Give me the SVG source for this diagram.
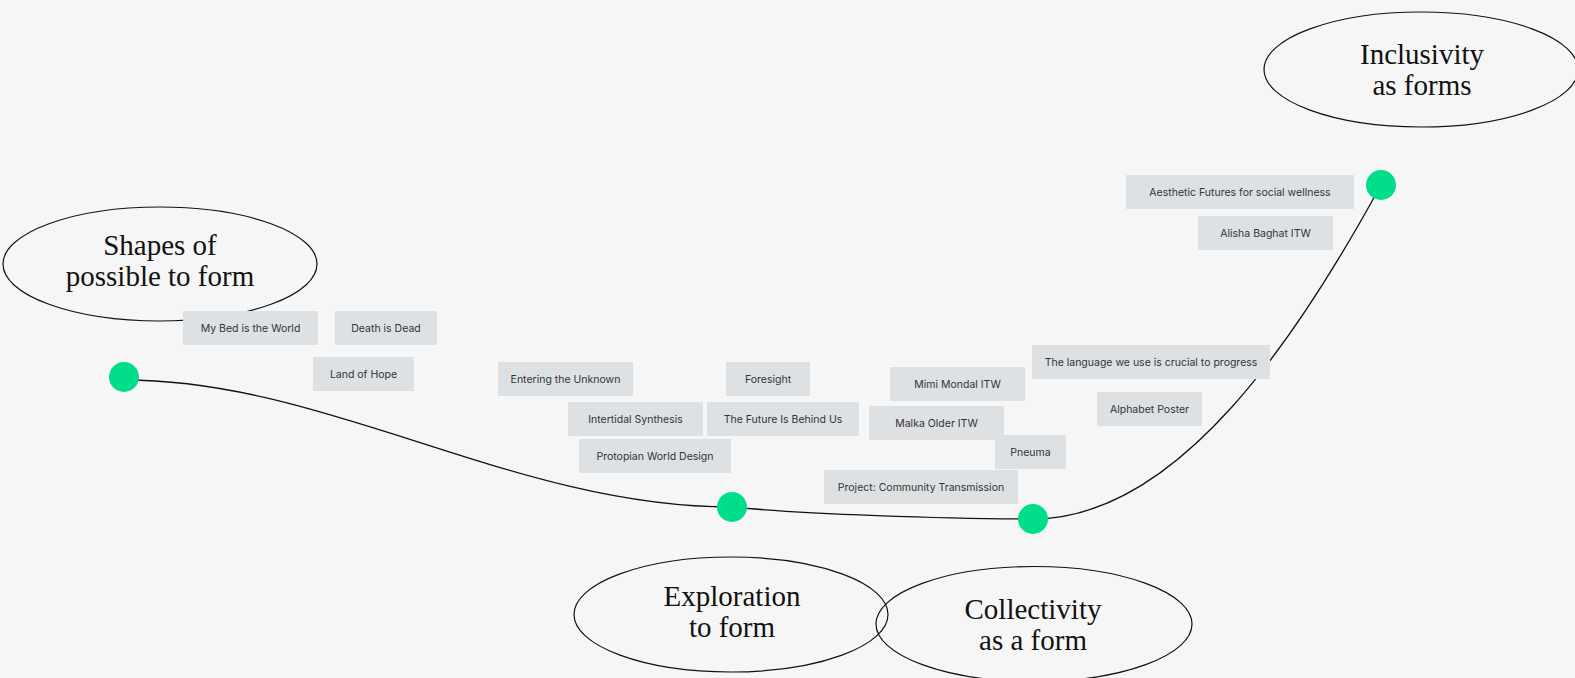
<svg xmlns="http://www.w3.org/2000/svg" width="1575" height="678" viewBox="0 0 1575 678">
  <style>
    .bg { fill: #f6f6f6; }
    .theme ellipse { fill: none; stroke: #111; stroke-width: 1.2; }
    .theme text { font-family: "Liberation Serif", "DejaVu Serif", serif; font-size: 29px; fill: #111; text-anchor: middle; }
    .card rect { fill: #dee1e4; }
    .card text { font-family: Inter, "Liberation Sans", sans-serif; font-size: 10.5px; fill: #333; text-anchor: middle; dominant-baseline: central; }
    .path { fill: none; stroke: #111; stroke-width: 1.3; }
    .stop { fill: #00de8b; }
  </style>

  <rect class="bg" x="0" y="0" width="1575" height="678"/>

  <!-- theme ellipses -->
  <g id="theme-shapes" class="theme">
    <ellipse cx="160" cy="264" rx="157" ry="57"/>
    <text x="160" y="255">Shapes of</text>
    <text x="160" y="286">possible to form</text>
  </g>
  <g id="theme-exploration" class="theme">
    <ellipse cx="731" cy="614.5" rx="157" ry="57.5"/>
    <text x="732" y="606">Exploration</text>
    <text x="732" y="637">to form</text>
  </g>
  <g id="theme-collectivity" class="theme">
    <ellipse cx="1034" cy="624" rx="158" ry="57.5"/>
    <text x="1033" y="619">Collectivity</text>
    <text x="1033" y="650">as a form</text>
  </g>
  <g id="theme-inclusivity" class="theme">
    <ellipse cx="1421" cy="69.5" rx="157" ry="57.5"/>
    <text x="1422" y="64">Inclusivity</text>
    <text x="1422" y="95">as forms</text>
  </g>

  <!-- timeline connectors -->
  <g id="connectors">
    <path class="path" d="M124,380 C330,380 513,507 732,507"/>
    <path class="path" d="M732,507 C800,514 950,519 1033,519"/>
    <path class="path" d="M1033,519 C1180,519 1301,331 1381,185"/>
  </g>

  <!-- project cards -->
  <g id="card-my-bed" class="card"><rect x="183" y="311" width="135" height="34"/><text x="250.5" y="328">My Bed is the World</text></g>
  <g id="card-death" class="card"><rect x="335" y="311" width="102" height="34"/><text x="386" y="328">Death is Dead</text></g>
  <g id="card-land" class="card"><rect x="313" y="357" width="101" height="34"/><text x="363.5" y="374">Land of Hope</text></g>
  <g id="card-entering" class="card"><rect x="498" y="362" width="135" height="34"/><text x="565.5" y="379">Entering the Unknown</text></g>
  <g id="card-foresight" class="card"><rect x="726" y="362" width="84" height="34"/><text x="768" y="379">Foresight</text></g>
  <g id="card-intertidal" class="card"><rect x="568" y="402" width="135" height="34"/><text x="635.5" y="419">Intertidal Synthesis</text></g>
  <g id="card-future" class="card"><rect x="707" y="402" width="152" height="34"/><text x="783" y="419">The Future Is Behind Us</text></g>
  <g id="card-protopian" class="card"><rect x="579" y="439" width="152" height="34"/><text x="655" y="456">Protopian World Design</text></g>
  <g id="card-community" class="card"><rect x="824" y="470" width="194" height="34"/><text x="921" y="487">Project: Community Transmission</text></g>
  <g id="card-language" class="card"><rect x="1032" y="345" width="238" height="34"/><text x="1151" y="362">The language we use is crucial to progress</text></g>
  <g id="card-mimi" class="card"><rect x="890" y="367" width="135" height="34"/><text x="957.5" y="384">Mimi Mondal ITW</text></g>
  <g id="card-malka" class="card"><rect x="869" y="406" width="135" height="34"/><text x="936.5" y="423">Malka Older ITW</text></g>
  <g id="card-pneuma" class="card"><rect x="995" y="435" width="71" height="34"/><text x="1030.5" y="452">Pneuma</text></g>
  <g id="card-alphabet" class="card"><rect x="1097" y="392" width="105" height="34"/><text x="1149.5" y="409">Alphabet Poster</text></g>
  <g id="card-aesthetic" class="card"><rect x="1126" y="175" width="228" height="34"/><text x="1240" y="192">Aesthetic Futures for social wellness</text></g>
  <g id="card-alisha" class="card"><rect x="1198" y="216" width="135" height="34"/><text x="1265.5" y="233">Alisha Baghat ITW</text></g>

  <!-- timeline stops -->
  <g id="stops">
    <circle id="stop-1" class="stop" cx="124" cy="377" r="15"/>
    <circle id="stop-2" class="stop" cx="732" cy="507" r="15"/>
    <circle id="stop-3" class="stop" cx="1033" cy="519" r="15"/>
    <circle id="stop-4" class="stop" cx="1381" cy="185" r="15"/>
  </g>
</svg>
